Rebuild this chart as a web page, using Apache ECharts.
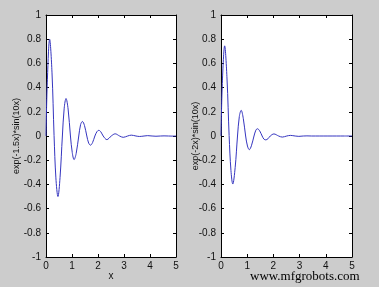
<!DOCTYPE html>
<html><head><meta charset="utf-8">
<script src="https://cdn.jsdelivr.net/npm/echarts@6/dist/echarts.min.js"></script>
<style>html,body{margin:0;padding:0;background:#cccccc}#c{width:379px;height:287px}</style>
</head><body><div id="c"></div>
<script>
// y = exp(-1.5x)*sin(10x)
const xLeft = [0,0.05,0.14,0.23,0.31,0.38,0.46,0.54,0.63,0.70,0.77,0.85,0.94,1.01,1.08,1.16,1.26,1.33,1.40,1.48,1.57,1.64,1.71,1.79,1.88,1.96,2.03,2.11,2.20,2.34,2.51,2.66,2.83,2.97,3.14,3.28,3.46,3.60,3.77,3.91,4.08,4.23,4.40,4.54,4.71,4.85,5.0];
const yLeft = [0,0.445,0.80,0.528,0.005,-0.346,-0.50,-0.344,0,0.23,0.31,0.223,0,-0.137,-0.195,-0.145,0,0.094,0.12,0.087,0,-0.058,-0.076,-0.055,0,0.036,0.047,0.034,0,-0.03,0,0.018,0,-0.011,0,0.007,0,-0.004,0,0.003,0,-0.002,0,0.001,0,-0.001,0];
// y = exp(-2x)*sin(10x)
const xRight = [0,0.05,0.14,0.23,0.31,0.38,0.45,0.54,0.63,0.70,0.77,0.85,0.94,1.01,1.08,1.16,1.26,1.33,1.39,1.48,1.57,1.64,1.71,1.79,1.88,2.02,2.20,2.34,2.51,2.65,2.83,2.97,3.14,3.28,3.46,3.77,4.08,4.40,4.71,5.0];
const yRight = [0,0.434,0.745,0.471,0.004,-0.286,-0.397,-0.262,0,0.162,0.212,0.146,0,-0.083,-0.113,-0.081,0,0.048,0.060,0.041,0,-0.026,-0.032,-0.023,0,0.017,0,-0.009,0,0.005,0,-0.003,0,0.001,0,0,0,0,0,0];
const xTicks = [0,1,2,3,4,5];
const yTicks = [-1,-0.8,-0.6,-0.4,-0.2,0,0.2,0.4,0.6,0.8,1];
const yNames = ['exp(-1.5x)*sin(10x)','exp(-2x)*sin(10x)'];
const xName = 'x';
const watermark = 'www.mfgrobots.com';

const font = 'Liberation Sans, Arial, sans-serif';
const grids = [
  {left:46, top:15, width:130, height:242},
  {left:221, top:15, width:131, height:242}
];
function fmtY(v){ if (v===0) return '0'; if (Math.abs(v)===1) return String(v); return String(Math.round(v*10)/10); }
const lineStyle = {color:'#000', width:1};
const xAxes = [], yAxes = [];
grids.forEach((g,i)=>{
  xAxes.push({gridIndex:i, type:'value', min:0, max:5, interval:1, position:'bottom',
    axisLine:{show:true, onZero:false, lineStyle}, axisTick:{show:true, inside:true, length:3, lineStyle},
    splitLine:{show:false}, axisLabel:{color:'#111', fontSize:10, fontFamily:font, margin:4},
    name: i===0 ? xName : '', nameLocation:'middle', nameGap:14, nameMoveOverlap:false,
    nameTextStyle:{color:'#111', fontSize:10, fontFamily:font}});
  xAxes.push({gridIndex:i, type:'value', min:0, max:5, interval:1, position:'top',
    axisLine:{show:true, onZero:false, lineStyle}, axisTick:{show:true, inside:true, length:3, lineStyle},
    splitLine:{show:false}, axisLabel:{show:false}});
  yAxes.push({gridIndex:i, type:'value', min:-1, max:1, interval:0.2, position:'left',
    axisLine:{show:true, onZero:false, lineStyle}, axisTick:{show:true, inside:true, length:3, lineStyle},
    splitLine:{show:false}, axisLabel:{color:'#111', fontSize:10, fontFamily:font, margin:5, formatter:fmtY},
    name: yNames[i], nameLocation:'middle', nameGap:i===0?25:21, nameRotate:90, nameMoveOverlap:false,
    nameTextStyle:{color:'#111', fontSize:9, fontFamily:font}});
  yAxes.push({gridIndex:i, type:'value', min:-1, max:1, interval:0.2, position:'right',
    axisLine:{show:true, onZero:false, lineStyle}, axisTick:{show:true, inside:true, length:3, lineStyle},
    splitLine:{show:false}, axisLabel:{show:false}});
});
const chart = echarts.init(document.getElementById('c'), null, {renderer:'canvas'});
chart.setOption({
  backgroundColor:'#cccccc',
  animation:false,
  grid: grids.map(g=>Object.assign({backgroundColor:'#ffffff', show:true, borderWidth:0, containLabel:false, outerBoundsMode:'none'}, g)),
  xAxis: xAxes,
  yAxis: yAxes,
  series: [
    {type:'line', xAxisIndex:0, yAxisIndex:0, data:xLeft.map((x,i)=>[x,yLeft[i]]), showSymbol:false, smooth:0.35,
      lineStyle:{color:'#3535c0', width:1}},
    {type:'line', xAxisIndex:2, yAxisIndex:2, data:xRight.map((x,i)=>[x,yRight[i]]), showSymbol:false, smooth:0.35,
      lineStyle:{color:'#3535c0', width:1}}
  ],
  graphic: [{type:'text', left:250, top:270, style:{text:watermark, fill:'#000', font:'13px "Liberation Serif", "DejaVu Serif", serif'}}]
});
</script></body></html>
